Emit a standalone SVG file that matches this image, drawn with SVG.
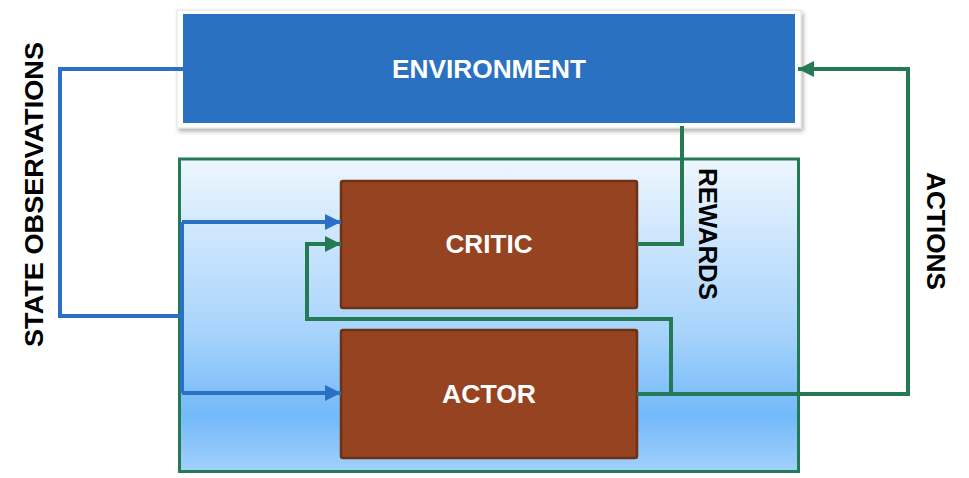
<svg xmlns="http://www.w3.org/2000/svg" width="969" height="478" viewBox="0 0 969 478">
  <defs>
    <linearGradient id="bg" x1="0" y1="0" x2="0" y2="1">
      <stop offset="0" stop-color="#EEF6FE"/>
      <stop offset="0.25" stop-color="#CDE6FD"/>
      <stop offset="0.55" stop-color="#A8D4FC"/>
      <stop offset="0.82" stop-color="#73B9F9"/>
      <stop offset="1" stop-color="#A2D0FC"/>
    </linearGradient>
    <filter id="sh" x="-5%" y="-10%" width="115%" height="130%">
      <feDropShadow dx="2" dy="3" stdDeviation="2" flood-color="#000" flood-opacity="0.3"/>
    </filter>
    <marker id="ab" viewBox="0 0 10 10" refX="10" refY="5" markerWidth="4" markerHeight="4" markerUnits="strokeWidth" orient="auto">
      <path d="M0,0 L10,5 L0,10 Z" fill="#2A71C6"/>
    </marker>
    <marker id="ag" viewBox="0 0 10 10" refX="10" refY="5" markerWidth="4" markerHeight="4" markerUnits="strokeWidth" orient="auto">
      <path d="M0,0 L10,5 L0,10 Z" fill="#237A55"/>
    </marker>
  </defs>
  <style>
    .lbl { font-family: "Liberation Sans", Arial, sans-serif; font-weight: bold; font-size: 25px; }
    .side { font-size: 26px; }
    .w { fill: #FFFFFF; }
    .k { fill: #000000; }
    .blue { fill: none; stroke: #2A71C6; stroke-width: 4; stroke-linejoin: miter; }
    .green { fill: none; stroke: #237A55; stroke-width: 4; stroke-linejoin: miter; }
    .box { fill: #954320; stroke: #6E3115; stroke-width: 2.5; }
  </style>

  <g id="container">
    <rect x="179.5" y="159" width="619" height="312.5" fill="url(#bg)" stroke="#237A55" stroke-width="3"/>
  </g>

  <g id="environment">
    <rect x="177" y="10" width="624" height="118" fill="#FFFFFF" stroke="#E2E2E2" stroke-width="1" filter="url(#sh)"/>
    <rect x="183" y="14" width="612" height="109" fill="#2A71C2"/>
    <text class="lbl w" x="489" y="78" text-anchor="middle" textLength="194" lengthAdjust="spacingAndGlyphs">ENVIRONMENT</text>
  </g>

  <g id="critic">
    <rect class="box" x="341" y="181" width="296" height="127" rx="2"/>
    <text class="lbl w" x="489" y="253" text-anchor="middle" textLength="87" lengthAdjust="spacingAndGlyphs">CRITIC</text>
  </g>

  <g id="actor">
    <rect class="box" x="341" y="330" width="296" height="128" rx="2"/>
    <text class="lbl w" x="489" y="403" text-anchor="middle" textLength="94" lengthAdjust="spacingAndGlyphs">ACTOR</text>
  </g>

  <g id="connectors">
    <polyline class="blue" points="183,69 60,69 60,316 182,316"/>
    <polyline class="blue" points="182,222 182,393"/>
    <polyline class="blue" points="182,222 341,222" marker-end="url(#ab)"/>
    <polyline class="blue" points="182,393 341,393" marker-end="url(#ab)"/>
    <polyline class="green" points="682,126 682,244 637,244"/>
    <polyline class="green" points="637,394 908,394 908,69 798,69" marker-end="url(#ag)"/>
    <polyline class="green" points="671,394 671,319 307,319 307,244 341,244" marker-end="url(#ag)"/>
  </g>

  <g id="labels">
    <text class="lbl side k" transform="translate(43,194.5) rotate(-90)" x="0" y="0" text-anchor="middle" textLength="305" lengthAdjust="spacingAndGlyphs">STATE OBSERVATIONS</text>
    <text class="lbl side k" transform="translate(699,234) rotate(90)" x="0" y="0" text-anchor="middle" textLength="132" lengthAdjust="spacingAndGlyphs">REWARDS</text>
    <text class="lbl side k" transform="translate(927,231) rotate(90)" x="0" y="0" text-anchor="middle" textLength="118" lengthAdjust="spacingAndGlyphs">ACTIONS</text>
  </g>
</svg>
